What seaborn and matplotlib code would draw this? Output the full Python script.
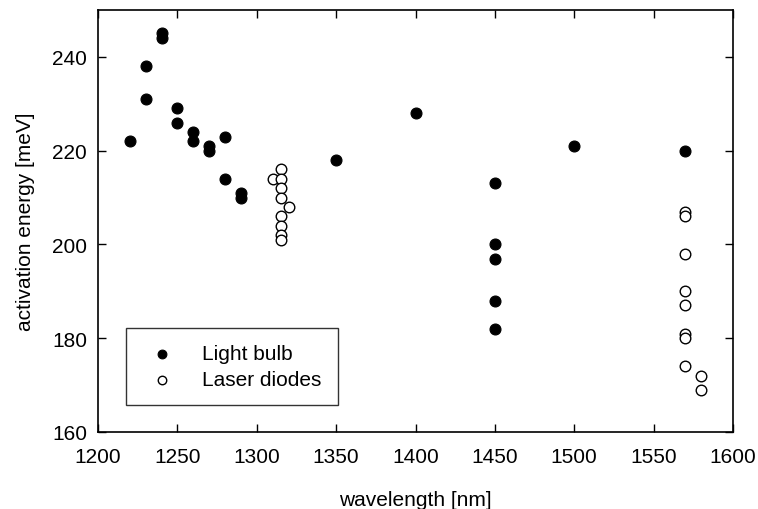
import matplotlib
matplotlib.use("Agg")
import matplotlib.pyplot as plt
import seaborn as sns
import pandas as pd

# Light bulb measurements
bulb_wavelength = [1220, 1230, 1230, 1240, 1240, 1250, 1250, 1260, 1260, 1270, 1270,
                   1280, 1280, 1290, 1290, 1350, 1400, 1450, 1450, 1450, 1450, 1450,
                   1500, 1570]
bulb_energy = [222, 238, 231, 245, 244, 229, 226, 224, 222, 221, 220,
               223, 214, 211, 210, 218, 228, 213, 200, 197, 188, 182,
               221, 220]

# Laser diode measurements
laser_wavelength = [1310, 1315, 1315, 1315, 1315, 1315, 1315, 1315, 1315, 1320,
                    1570, 1570, 1570, 1570, 1570, 1570, 1570, 1570, 1580, 1580]
laser_energy = [214, 216, 214, 212, 210, 206, 204, 202, 201, 208,
                207, 206, 198, 190, 187, 181, 180, 174, 172, 169]

x_ticks = [1200, 1250, 1300, 1350, 1400, 1450, 1500, 1550, 1600]
y_ticks = [160, 180, 200, 220, 240]

sns.set_theme(style="ticks")
plt.rcParams["font.family"] = ["Liberation Sans", "DejaVu Sans"]
plt.rcParams["text.color"] = "black"
plt.rcParams["axes.labelcolor"] = "black"

bulb = pd.DataFrame({"wavelength": bulb_wavelength, "energy": bulb_energy})
laser = pd.DataFrame({"wavelength": laser_wavelength, "energy": laser_energy})

fig = plt.figure(figsize=(7.58, 5.10), dpi=100)
ax = fig.add_axes([98 / 758, 1 - 433 / 510, 635 / 758, 422 / 510])

sns.scatterplot(data=bulb, x="wavelength", y="energy", ax=ax, s=62,
                color="black", edgecolor="black", linewidth=0.8,
                label="Light bulb", zorder=3)
sns.scatterplot(data=laser, x="wavelength", y="energy", ax=ax, s=58,
                facecolor="white", edgecolor="black", linewidth=1.0,
                label="Laser diodes", zorder=3)

ax.set_xlim(1200, 1600)
ax.set_ylim(160, 250)
ax.set_xticks(x_ticks)
ax.set_yticks(y_ticks)
ax.tick_params(direction="in", length=6, width=1, top=True, right=True,
               labelsize=15, colors="black")
ax.tick_params(axis="x", pad=11)
ax.tick_params(axis="y", pad=8)
for sp in ax.spines.values():
    sp.set_linewidth(1.2)
    sp.set_color("black")

ax.set_xlabel("wavelength [nm]", fontsize=15, labelpad=17)
ax.set_ylabel("activation energy [meV]", fontsize=15, labelpad=12)

leg = ax.legend(loc="lower left", bbox_to_anchor=(0.044, 0.064, 0.334, 0.185),
                mode="expand", borderaxespad=0, frameon=True, fancybox=False,
                fontsize=15, handletextpad=0.9, borderpad=0.75, labelspacing=0.35,
                markerscale=0.8, handlelength=2.0)
leg.get_frame().set_edgecolor("black")
leg.get_frame().set_linewidth(1.0)

fig.savefig("out.png", dpi=100)
